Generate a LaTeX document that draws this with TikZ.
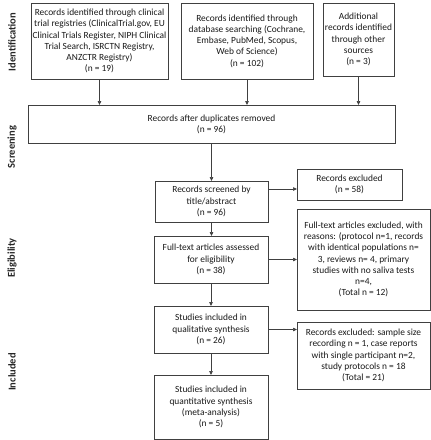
\documentclass[tikz,border=0pt]{standalone}
\usepackage{fontspec}
\setmainfont{Carlito}
\usetikzlibrary{arrows.meta,calc}
\begin{document}
\begin{tikzpicture}[x=1pt,y=-1pt,
  line/.style={draw=black!75,line width=0.7pt},
  arr/.style={line,-{Triangle[length=4pt,width=3.5pt]}},
  phase/.style={font=\fontsize{10.5}{12}\selectfont\bfseries,rotate=90,anchor=center,text=black!85},
  txt/.style={font=\fontsize{9.4}{11.2}\selectfont,align=center,text=black!90,inner sep=0pt}]
\useasboundingbox (0,0) rectangle (431,440);
% boxes
\newcommand{\pbox}[6]{%
  \draw[line] (#2,#3) rectangle (#4,#5);
  \node[txt] (#1) at ({(#2+#4)/2},{(#3+#5)/2}) {#6};
  \coordinate (#1-n) at ({(#2+#4)/2},#3);
  \coordinate (#1-s) at ({(#2+#4)/2},#5);
  \coordinate (#1-w) at (#2,{(#3+#5)/2});
  \coordinate (#1-e) at (#4,{(#3+#5)/2});}
\pbox{A}{31}{3}{168}{79}{Records identified through clinical\\trial registries (ClinicalTrial.gov, EU\\Clinical Trials Register, NIPH Clinical\\Trial Search, ISRCTN Registry,\\ANZCTR Registry)\\(n = 19)}
\pbox{B}{181}{3}{313}{79}{Records identified through\\database searching (Cochrane,\\Embase, PubMed, Scopus,\\Web of Science)\\(n = 102)}
\pbox{C}{323}{3}{394}{76}{Additional\\records identified\\through other\\sources\\(n = 3)}
\pbox{D}{28}{105}{395}{143}{Records after duplicates removed\\(n = 96)}
\pbox{E}{155}{181}{268}{222}{Records screened by\\title/abstract\\(n = 96)}
\pbox{F}{297}{169}{402}{200}{Records excluded\\(n = 58)}
\pbox{G}{297}{209}{430}{310}{Full-text articles excluded, with\\reasons: (protocol n=1, records\\with identical populations n=\\3, reviews n= 4, primary\\studies with no saliva tests\\n=4,\\(Total n = 12)}
\pbox{H}{154}{236}{268}{283}{Full-text articles assessed\\for eligibility\\(n = 38)}
\pbox{I}{154}{306}{268}{353}{Studies included in\\qualitative synthesis\\(n = 26)}
\pbox{J}{297}{322}{430}{389}{Records excluded: sample size\\recording n = 1, case reports\\with single participant n=2,\\study protocols n = 18\\(Total = 21)}
\pbox{K}{154}{375}{268}{439}{Studies included in\\quantitative synthesis\\(meta-analysis)\\(n = 5)}
% phase labels
\node[phase] (p1) at (12,42) {Identification};
\node[phase] (p2) at (12,147) {Screening};
\node[phase] (p3) at (12,258) {Eligibility};
\node[phase] (p4) at (12,372) {Included};
% arrows
\draw[arr] (A-s) -- (A-s |- D-n);
\draw[arr] (B-s) -- (B-s |- D-n);
\draw[arr] (C-s) -- (C-s |- D-n);
\draw[arr] (E-n |- D-s) -- (E-n);
\draw[arr] (E-s) -- (E-s |- H-n);
\draw[arr] (H-s) -- (H-s |- I-n);
\draw[arr] (I-s) -- (I-s |- K-n);
\coordinate (ef) at (268,189);
\draw[arr] (ef) -- (F-w |- ef);
\draw[arr] (H-e) -- (G-w |- H-e);
\draw[arr] (I-e) -- (J-w |- I-e);
\end{tikzpicture}
\end{document}
